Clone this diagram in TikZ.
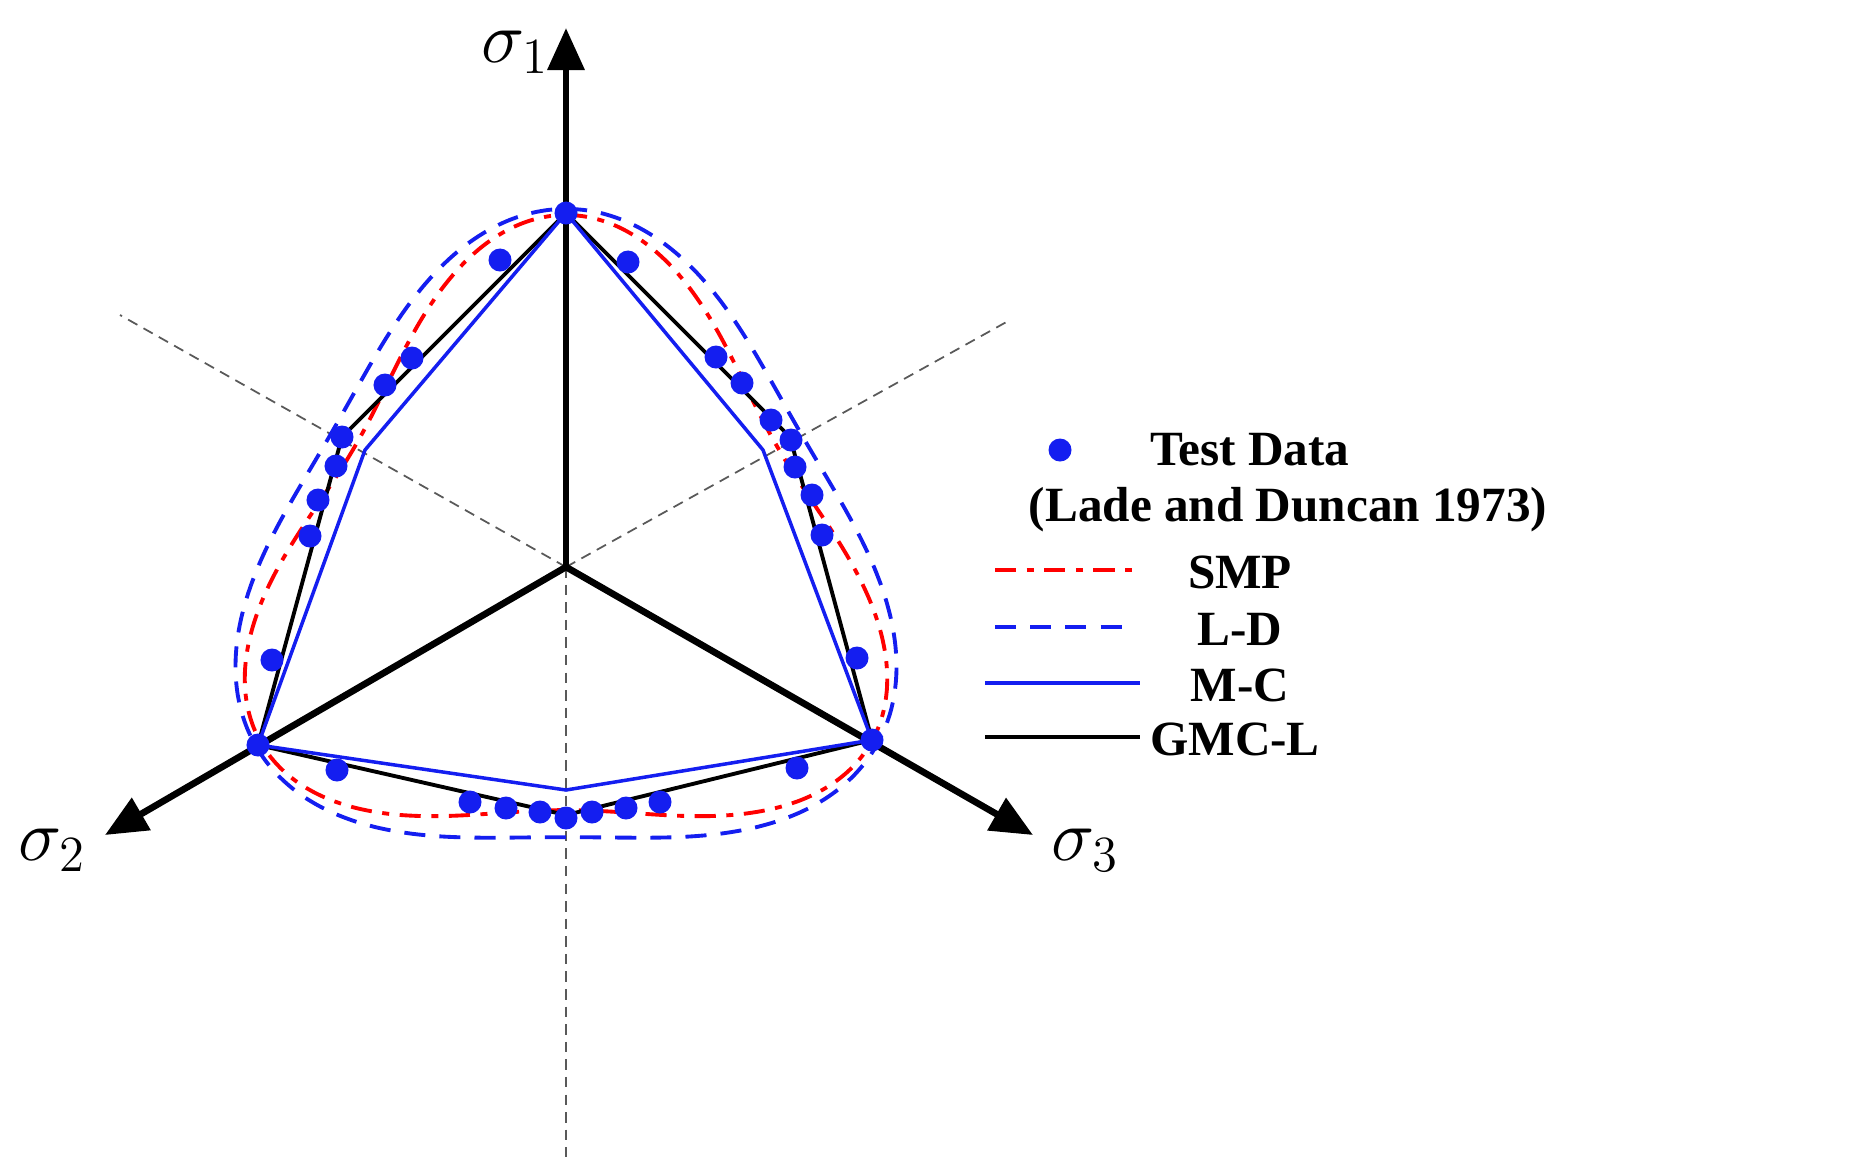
\documentclass[tikz,border=0pt]{standalone}
\usepackage{fontspec}
\setmainfont{Liberation Serif}
\usetikzlibrary{arrows.meta}
\definecolor{pblue}{RGB}{20,30,240}
\begin{document}
\begin{tikzpicture}[x=0.01cm,y=-0.01cm,
  ax/.style={line width=1.9pt,-{Triangle[length=0.42cm,width=0.36cm]}},
  guide/.style={densely dashed,gray!70!black,line width=0.5pt},
  dot/.style={circle,fill=pblue,inner sep=0pt,minimum size=0.23cm},
  lg/.style={font=\bfseries\fontsize{14}{16}\selectfont},
  smp/.style={red,line width=1.1pt,dash pattern=on 6pt off 3pt on 2pt off 3pt},
  ld/.style={pblue,line width=1.1pt,dash pattern=on 6pt off 4pt},
  mc/.style={pblue,line width=1pt},
  gmc/.style={black,line width=1.1pt},
  sig/.style={font=\fontsize{21}{24}\selectfont}]
\useasboundingbox (0,0) rectangle (1857,1157);
\coordinate (O) at (566,567);
\coordinate (A) at (566,213);
\coordinate (B) at (258,745);
\coordinate (C) at (872,740);
% guides
\draw[guide] (O) -- (120,315);
\draw[guide] (O) -- (1010,320);
\draw[guide] (O) -- (566,1157);
% curves
\draw[ld,domain=0:360,samples=241,smooth] plot ({566+308/(1-0.14*cos(3*\x))*sin(\x)},{567-308/(1-0.14*cos(3*\x))*cos(\x)}) -- cycle;
\draw[smp,domain=0:360,samples=241,smooth] plot ({566+287.6/(1-0.183*cos(3*\x))*sin(\x)},{567-287.6/(1-0.183*cos(3*\x))*cos(\x)}) -- cycle;
\draw[gmc] (A) -- (342,437) -- (B) -- (566,815) -- (C) -- (790,437) -- cycle;
\draw[mc] (A) -- (365,450) -- (B) -- (566,790) -- (C) -- (763,450) -- cycle;
% axes
\draw[ax] (O) -- (566,28) coordinate (s1);
\draw[ax] (O) -- (105,835) coordinate (s2);
\draw[ax] (O) -- (1033,835) coordinate (s3);
\node[sig] (l1) at (515,52) {$\sigma_1$};
\node[sig] (l2) at (52,850) {$\sigma_2$};
\node[sig] (l3) at (1085,850) {$\sigma_3$};
% data
\foreach \p in {(566,213),(500,260),(628,262),(412,358),(385,385),(342,437),(336,466),(318,500),(310,536),(272,660),(258,745),(337,770),(470,802),(506,808),(540,812),(566,818),(592,812),(626,808),(660,802),(797,768),(872,740),(716,357),(742,383),(771,420),(791,440),(795,467),(812,495),(822,535),(857,658)}
  \node[dot] at \p {};
% legend
\node[dot] (ldot) at (1060,450) {};
\node[lg] (t1) at (1250,450) {Test Data};
\node[lg] (t2) at (1288,510) {(Lade and Duncan 1973)};
\draw[smp] (995,570) coordinate (a1) -- (1135,570) coordinate (a2);
\node[lg] (t3) at (1240,572) {SMP};
\draw[ld] (995,627) coordinate (b1) -- (1135,627) coordinate (b2);
\node[lg] (t4) at (1240,629) {L-D};
\draw[mc] (985,683) coordinate (c1) -- (1140,683) coordinate (c2);
\node[lg] (t5) at (1240,685) {M-C};
\draw[gmc] (985,737) coordinate (d1) -- (1140,737) coordinate (d2);
\node[lg] (t6) at (1235,739) {GMC-L};
\end{tikzpicture}
\end{document}
